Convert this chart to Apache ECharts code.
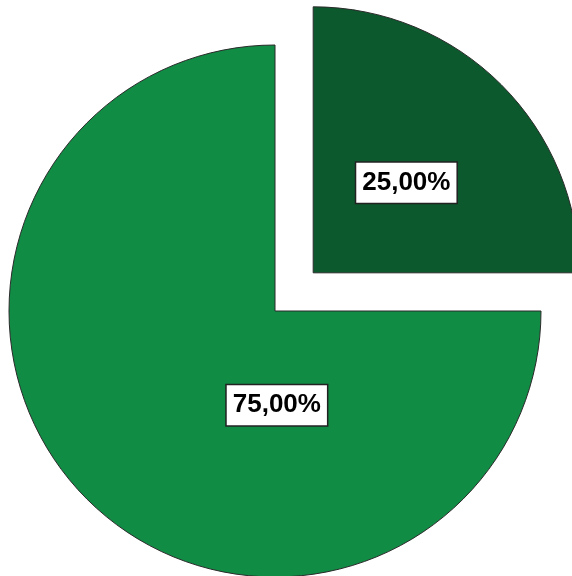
<!DOCTYPE html>
<html>
<head>
<meta charset="utf-8">
<script src="https://cdn.jsdelivr.net/npm/echarts@6/dist/echarts.min.js"></script>
<style>
  html, body { margin: 0; padding: 0; background: #fff; }
  #main { width: 572px; height: 576px; }
</style>
</head>
<body>
<div id="main"></div>
<script>
(function () {

  // slice data, clockwise from 12 o'clock
  var categories = ['Grupo A', 'Grupo B'];
  var values = [25, 75];
  var colors = ['#0b592d', '#118c45'];
  var exploded = [true, false];
  var labelOffsets = [[-3, 6], [98, -2]];

  var myChart = echarts.init(document.getElementById('main'));

  var data = categories.map(function (name, i) {
    return {
      name: name,
      value: values[i],
      selected: exploded[i],
      itemStyle: { color: colors[i] },
      label: { offset: labelOffsets[i] },
      select: { label: { offset: labelOffsets[i] } }
    };
  });

  var option = {
    animation: false,
    backgroundColor: '#ffffff',
    series: [{
      type: 'pie',
      center: [275, 311],
      radius: [0, 266],
      startAngle: 90,
      clockwise: true,
      selectedMode: 'multiple',
      selectedOffset: 54,
      silent: true,
      data: data,
      itemStyle: {
        borderColor: '#2b2b2b',
        borderWidth: 1
      },
      label: {
        show: true,
        position: 'inside',
        formatter: function (p) {
          return p.percent.toFixed(2).replace('.', ',') + '%';
        },
        fontFamily: 'Liberation Sans, Arial, sans-serif',
        fontWeight: 'bold',
        fontSize: 26,
        color: '#000',
        backgroundColor: '#ffffff',
        borderColor: '#222',
        borderWidth: 1.5,
        padding: [8, 6, 6, 6]
      },
      labelLine: { show: false },
      emphasis: { disabled: true }
    }]
  };

  myChart.setOption(option);

})();
</script>
</body>
</html>
